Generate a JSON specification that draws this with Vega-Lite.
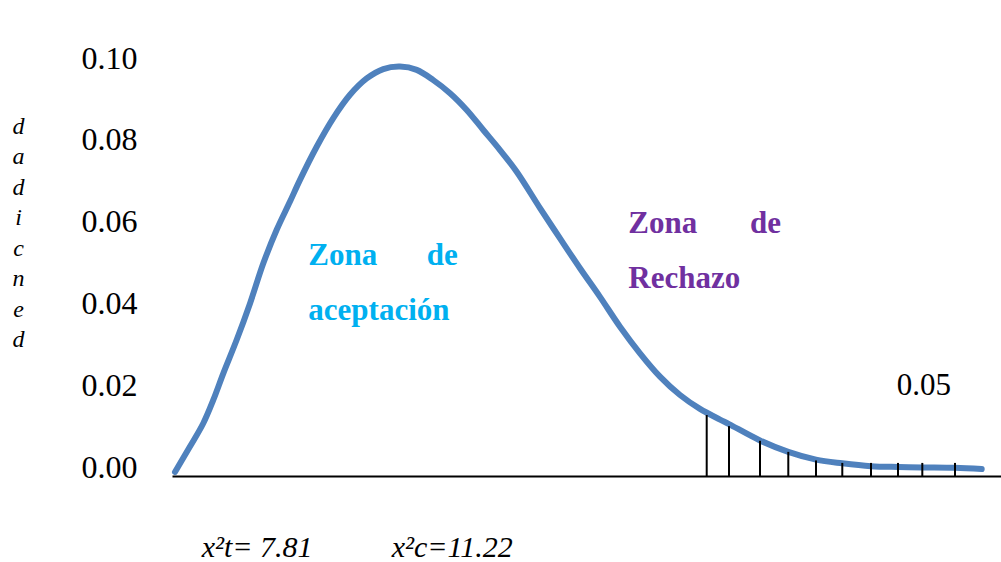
{
  "$schema": "https://vega.github.io/schema/vega-lite/v6.json",
  "autosize": {"type": "none"},
  "padding": {"left": 172, "top": 0, "right": 0, "bottom": 86},
  "width": 829,
  "height": 476,
  "background": "white",
  "config": {"view": {"stroke": null}},
  "datasets": {
    "curve": [
      {"chi": 0, "dens": -0.0012},
      {"chi": 0.533, "dens": 0.0050},
      {"chi": 1.006, "dens": 0.0107},
      {"chi": 1.362, "dens": 0.0164},
      {"chi": 1.718, "dens": 0.0229},
      {"chi": 2.194, "dens": 0.0311},
      {"chi": 2.667, "dens": 0.0400},
      {"chi": 3.14, "dens": 0.0498},
      {"chi": 3.616, "dens": 0.0580},
      {"chi": 4.089, "dens": 0.0649},
      {"chi": 4.444, "dens": 0.0702},
      {"chi": 5.038, "dens": 0.0783},
      {"chi": 5.628, "dens": 0.0853},
      {"chi": 6.222, "dens": 0.0910},
      {"chi": 6.816, "dens": 0.0950},
      {"chi": 7.406, "dens": 0.0973},
      {"chi": 8.0, "dens": 0.0979},
      {"chi": 8.594, "dens": 0.0971},
      {"chi": 9.184, "dens": 0.0946},
      {"chi": 9.778, "dens": 0.0914},
      {"chi": 10.372, "dens": 0.0873},
      {"chi": 10.962, "dens": 0.0824},
      {"chi": 11.556, "dens": 0.0775},
      {"chi": 12.149, "dens": 0.0722},
      {"chi": 12.978, "dens": 0.0633},
      {"chi": 13.689, "dens": 0.0559},
      {"chi": 14.4, "dens": 0.0486},
      {"chi": 15.111, "dens": 0.0416},
      {"chi": 15.822, "dens": 0.0343},
      {"chi": 16.533, "dens": 0.0278},
      {"chi": 17.244, "dens": 0.0221},
      {"chi": 17.956, "dens": 0.0176},
      {"chi": 18.667, "dens": 0.0142},
      {"chi": 19.378, "dens": 0.0116},
      {"chi": 19.698, "dens": 0.0105},
      {"chi": 20.8, "dens": 0.0065},
      {"chi": 21.806, "dens": 0.0037},
      {"chi": 22.791, "dens": 0.0018},
      {"chi": 23.726, "dens": 0.0009},
      {"chi": 24.747, "dens": 0.0002},
      {"chi": 25.717, "dens": 0.0},
      {"chi": 26.571, "dens": -0.0001},
      {"chi": 27.733, "dens": -0.0002},
      {"chi": 28.683, "dens": -0.0005}
    ],
    "hatch": [
      {"chi": 18.905, "dens": 0.0127},
      {"chi": 19.698, "dens": 0.0100},
      {"chi": 20.8, "dens": 0.0064},
      {"chi": 21.806, "dens": 0.0037},
      {"chi": 22.791, "dens": 0.0016},
      {"chi": 23.726, "dens": 0.0010},
      {"chi": 24.747, "dens": 0.001},
      {"chi": 25.707, "dens": 0.001},
      {"chi": 26.571, "dens": 0.001},
      {"chi": 27.733, "dens": 0.001}
    ],
    "zones": [
      {"label": "Zona", "chi": 4.74, "dens": 0.0494, "zone": "aceptación"},
      {"label": "de", "chi": 8.949, "dens": 0.0494, "zone": "aceptación"},
      {"label": "aceptación", "chi": 4.74, "dens": 0.0359, "zone": "aceptación"},
      {"label": "Zona", "chi": 16.117, "dens": 0.0571, "zone": "rechazo"},
      {"label": "de", "chi": 20.444, "dens": 0.0571, "zone": "rechazo"},
      {"label": "Rechazo", "chi": 16.117, "dens": 0.0437, "zone": "rechazo"}
    ],
    "alpha": [{"label": "0.05", "chi": 25.66, "dens": 0.0176}],
    "crit": [
      {"label": "x²t= 7.81", "chi": 0.949, "dens": -0.0219, "kind": "tabla"},
      {"label": "x²c=11.22", "chi": 7.705, "dens": -0.0219, "kind": "calculado"}
    ]
  },
  "encoding": {
    "x": {"field": "chi", "type": "quantitative", "scale": {"domain": [-0.10667, 29.3689], "nice": false, "zero": false},
      "axis": {"orient": "bottom", "labels": false, "ticks": false, "grid": false, "title": null, "domain": true, "domainColor": "black", "domainWidth": 2}},
    "y": {"field": "dens", "type": "quantitative", "scale": {"domain": [-0.0022, 0.114181], "nice": false, "zero": false},
      "axis": {"orient": "left", "values": [0, 0.02, 0.04, 0.06, 0.08, 0.1], "format": ".2f", "grid": false, "domain": false, "ticks": false, "tickSize": 0,
        "labelExpr": "datum.label === '0.08' ? datum.label + '\u00a0' : datum.label",
        "labelFont": "Liberation Serif", "labelFontSize": 32, "labelColor": "black", "labelPadding": 35,
        "title": ["d", "a", "d", "i", "c", "n", "e", "d"], "titleAngle": 0, "titleX": -154, "titleY": 133, "titleAlign": "center", "titleBaseline": "alphabetic",
        "titleFont": "Liberation Serif", "titleFontSize": 24, "titleFontStyle": "italic", "titleFontWeight": "normal", "titleColor": "black", "titleLineHeight": 30.5}}
  },
  "layer": [
    {
      "data": {"name": "curve"},
      "mark": {"type": "line", "stroke": "#4F81BD", "strokeWidth": 6, "interpolate": "catmull-rom", "strokeCap": "round"}
    },
    {
      "data": {"name": "hatch"},
      "mark": {"type": "rule", "stroke": "black", "strokeWidth": 2},
      "encoding": {"y2": {"datum": -0.0022}}
    },
    {
      "data": {"values": [{}]},
      "mark": {"type": "rule", "stroke": "black", "strokeWidth": 2},
      "encoding": {
        "x": {"datum": -0.4267},
        "y": {"datum": 0.1105},
        "x2": {"datum": -0.1067},
        "y2": {"datum": -0.0022}
      }
    },
    {
      "data": {"name": "zones"},
      "mark": {"type": "text", "align": "left", "baseline": "alphabetic", "font": "Liberation Serif", "fontSize": 31, "fontWeight": "bold"},
      "encoding": {
        "text": {"field": "label"},
        "color": {"field": "zone", "type": "nominal", "scale": {"domain": ["aceptación", "rechazo"], "range": ["#00B0F0", "#7030A0"]}, "legend": null}
      }
    },
    {
      "data": {"name": "alpha"},
      "mark": {"type": "text", "align": "left", "baseline": "alphabetic", "font": "Liberation Serif", "fontSize": 31, "color": "black"},
      "encoding": {"text": {"field": "label"}}
    },
    {
      "data": {"name": "crit"},
      "mark": {"type": "text", "align": "left", "baseline": "alphabetic", "font": "Liberation Serif", "fontSize": 30, "fontStyle": "italic", "color": "black"},
      "encoding": {
        "text": {"field": "label"},
        "fontWeight": {"field": "kind", "type": "nominal", "scale": {"domain": ["tabla", "calculado"], "range": ["normal", "bold"]}, "legend": null}
      }
    }
  ]
}
